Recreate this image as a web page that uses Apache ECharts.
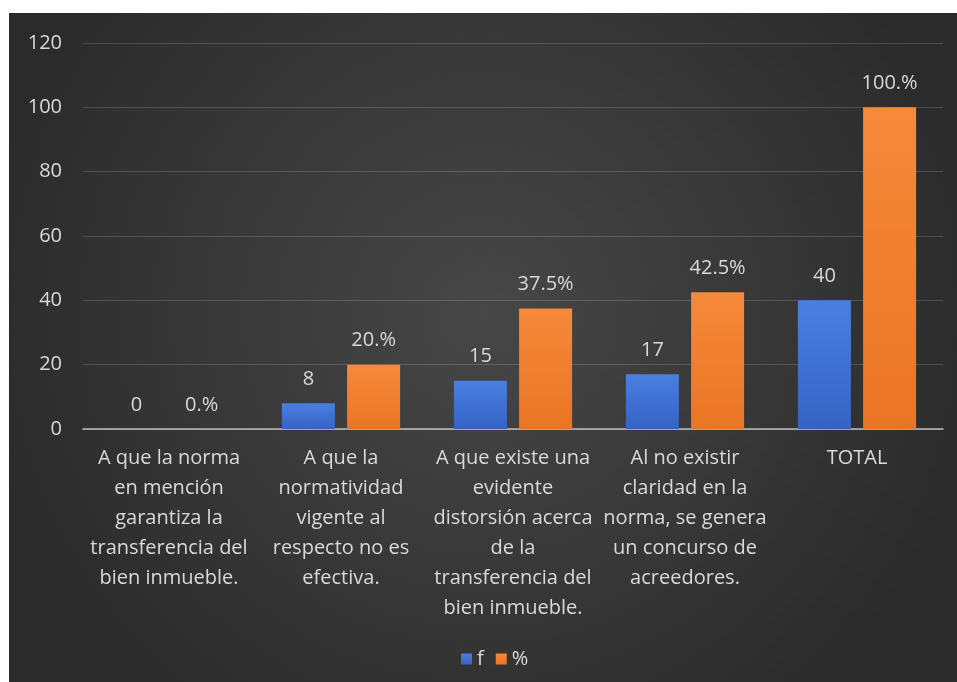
<!DOCTYPE html>
<html>
<head>
<meta charset="utf-8">
<script src="https://cdn.jsdelivr.net/npm/echarts@6/dist/echarts.min.js"></script>
<style>
  html, body { margin: 0; padding: 0; background: #ffffff; }
  #chart { width: 957px; height: 682px; }
</style>
</head>
<body>
<div id="chart"></div>
<script>
// Categories (survey answers) and the two series: frequency and percentage
const categories = [
  'A que la norma\nen mención\ngarantiza la\ntransferencia del\nbien inmueble.',
  'A que la\nnormatividad\nvigente al\nrespecto no es\nefectiva.',
  'A que existe una\nevidente\ndistorsión acerca\nde la\ntransferencia del\nbien inmueble.',
  'Al no existir\nclaridad en la\nnorma, se genera\nun concurso de\nacreedores.',
  'TOTAL'
];
const freqValues = [0, 8, 15, 17, 40];
const pctValues = [0, 20, 37.5, 42.5, 100];
const seriesNames = ['f', '%'];
const yTicks = [0, 20, 40, 60, 80, 100, 120];

const textColor = '#d9d9d9';
const fontFamily = '"Open Sans", "Noto Sans", sans-serif';

const chart = echarts.init(document.getElementById('chart'), null, { renderer: 'canvas' });

// Percent labels keep the ".%" style for whole numbers
function pctLabel(v) {
  return Number.isInteger(v) ? v + '.%' : v + '%';
}

const blueFill = new echarts.graphic.LinearGradient(0, 0, 0, 1, [
  { offset: 0, color: '#4a7fe0' },
  { offset: 1, color: '#3563c4' }
]);
const orangeFill = new echarts.graphic.LinearGradient(0, 0, 0, 1, [
  { offset: 0, color: '#f6893a' },
  { offset: 1, color: '#ea7524' }
]);

chart.setOption({
  backgroundColor: '#ffffff',
  animation: false,
  graphic: [{
    type: 'rect',
    z: -10,
    silent: true,
    shape: { x: 9, y: 13, width: 948, height: 669 },
    style: {
      fill: new echarts.graphic.RadialGradient(0.5, 0.45, 0.75, [
        { offset: 0, color: '#474747' },
        { offset: 1, color: '#2b2b2b' }
      ])
    }
  }],
  legend: {
    data: seriesNames,
    left: 456,
    top: 644,
    icon: 'rect',
    itemWidth: 11,
    itemHeight: 11,
    itemGap: 12,
    textStyle: { color: textColor, fontSize: 20, fontFamily: fontFamily }
  },
  grid: { left: 83, right: 14, top: 43, bottom: 253, containLabel: false },
  xAxis: {
    type: 'category',
    data: categories,
    axisLine: { lineStyle: { color: '#bfbfbf', width: 1.5 } },
    axisTick: { show: false },
    axisLabel: {
      interval: 0,
      color: textColor,
      fontSize: 20,
      lineHeight: 30,
      margin: 14,
      fontFamily: fontFamily
    }
  },
  yAxis: {
    type: 'value',
    min: yTicks[0],
    max: yTicks[yTicks.length - 1],
    interval: 20,
    axisLine: { show: false },
    axisTick: { show: false },
    splitLine: { lineStyle: { color: 'rgba(255,255,255,0.16)', width: 1 } },
    axisLabel: { color: textColor, fontSize: 20, margin: 21, fontFamily: fontFamily }
  },
  series: [
    {
      name: seriesNames[0],
      type: 'bar',
      data: freqValues,
      barWidth: 53,
      barGap: '23%',
      itemStyle: { color: blueFill },
      label: {
        show: true, position: 'top', distance: 14,
        color: textColor, fontSize: 20, fontFamily: fontFamily
      }
    },
    {
      name: seriesNames[1],
      type: 'bar',
      data: pctValues,
      barWidth: 53,
      barGap: '23%',
      itemStyle: { color: orangeFill },
      label: {
        show: true, position: 'top', distance: 14,
        color: textColor, fontSize: 20, fontFamily: fontFamily,
        formatter: p => pctLabel(p.value)
      }
    }
  ]
});
</script>
</body>
</html>
